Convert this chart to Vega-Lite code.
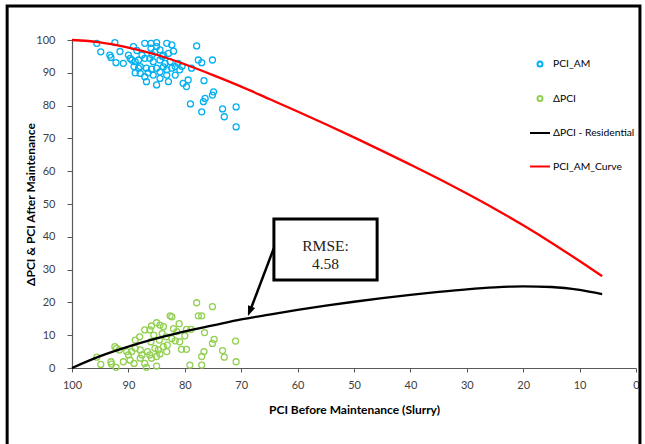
{
  "$schema": "https://vega.github.io/schema/vega-lite/v6.json",
  "width": 564,
  "height": 328,
  "autosize": {"type": "none"},
  "padding": {"left": 72, "top": 40, "right": 9, "bottom": 76},
  "background": "white",
  "config": {
    "view": {"stroke": null},
    "font": "Lato",
    "axis": {"grid": false, "domainColor": "#595959", "tickColor": "#595959", "labelColor": "#404040", "labelFont": "Lato", "labelFontSize": 11, "titleFont": "Lato", "titleFontSize": 12, "titleFontWeight": "bold", "titleColor": "#000000", "domainWidth": 1.2, "labelOverlap": false, "labelFlush": false, "labelBound": false, "tickCount": 11}
  },
  "datasets": {
    "scatter": [
      {"pci": 95.6, "value": 99.0, "series": "PCI_AM"},
      {"pci": 94.9, "value": 96.4, "series": "PCI_AM"},
      {"pci": 92.4, "value": 99.2, "series": "PCI_AM"},
      {"pci": 93.3, "value": 95.4, "series": "PCI_AM"},
      {"pci": 93.1, "value": 94.7, "series": "PCI_AM"},
      {"pci": 92.2, "value": 93.1, "series": "PCI_AM"},
      {"pci": 90.9, "value": 92.9, "series": "PCI_AM"},
      {"pci": 89.1, "value": 98.0, "series": "PCI_AM"},
      {"pci": 90.0, "value": 95.4, "series": "PCI_AM"},
      {"pci": 89.7, "value": 94.4, "series": "PCI_AM"},
      {"pci": 88.8, "value": 93.4, "series": "PCI_AM"},
      {"pci": 88.2, "value": 93.9, "series": "PCI_AM"},
      {"pci": 87.6, "value": 95.4, "series": "PCI_AM"},
      {"pci": 89.0, "value": 91.9, "series": "PCI_AM"},
      {"pci": 87.9, "value": 91.9, "series": "PCI_AM"},
      {"pci": 88.8, "value": 90.0, "series": "PCI_AM"},
      {"pci": 87.9, "value": 89.8, "series": "PCI_AM"},
      {"pci": 87.1, "value": 99.0, "series": "PCI_AM"},
      {"pci": 86.0, "value": 99.0, "series": "PCI_AM"},
      {"pci": 85.0, "value": 99.2, "series": "PCI_AM"},
      {"pci": 86.0, "value": 97.5, "series": "PCI_AM"},
      {"pci": 85.0, "value": 98.0, "series": "PCI_AM"},
      {"pci": 84.4, "value": 97.0, "series": "PCI_AM"},
      {"pci": 85.3, "value": 96.4, "series": "PCI_AM"},
      {"pci": 83.2, "value": 99.0, "series": "PCI_AM"},
      {"pci": 82.3, "value": 98.5, "series": "PCI_AM"},
      {"pci": 83.8, "value": 95.4, "series": "PCI_AM"},
      {"pci": 82.9, "value": 95.9, "series": "PCI_AM"},
      {"pci": 87.1, "value": 94.4, "series": "PCI_AM"},
      {"pci": 86.2, "value": 94.4, "series": "PCI_AM"},
      {"pci": 85.6, "value": 93.4, "series": "PCI_AM"},
      {"pci": 84.4, "value": 93.9, "series": "PCI_AM"},
      {"pci": 83.5, "value": 92.9, "series": "PCI_AM"},
      {"pci": 82.6, "value": 93.4, "series": "PCI_AM"},
      {"pci": 86.8, "value": 91.4, "series": "PCI_AM"},
      {"pci": 85.9, "value": 91.1, "series": "PCI_AM"},
      {"pci": 85.0, "value": 91.4, "series": "PCI_AM"},
      {"pci": 84.4, "value": 90.3, "series": "PCI_AM"},
      {"pci": 83.2, "value": 90.9, "series": "PCI_AM"},
      {"pci": 82.3, "value": 91.4, "series": "PCI_AM"},
      {"pci": 81.7, "value": 91.9, "series": "PCI_AM"},
      {"pci": 81.2, "value": 92.9, "series": "PCI_AM"},
      {"pci": 80.9, "value": 90.9, "series": "PCI_AM"},
      {"pci": 87.1, "value": 88.8, "series": "PCI_AM"},
      {"pci": 86.8, "value": 87.3, "series": "PCI_AM"},
      {"pci": 85.6, "value": 89.3, "series": "PCI_AM"},
      {"pci": 85.0, "value": 86.3, "series": "PCI_AM"},
      {"pci": 84.4, "value": 88.3, "series": "PCI_AM"},
      {"pci": 82.9, "value": 87.3, "series": "PCI_AM"},
      {"pci": 83.2, "value": 89.3, "series": "PCI_AM"},
      {"pci": 81.7, "value": 89.3, "series": "PCI_AM"},
      {"pci": 80.3, "value": 86.8, "series": "PCI_AM"},
      {"pci": 79.4, "value": 87.8, "series": "PCI_AM"},
      {"pci": 79.7, "value": 85.8, "series": "PCI_AM"},
      {"pci": 78.8, "value": 91.4, "series": "PCI_AM"},
      {"pci": 77.9, "value": 98.2, "series": "PCI_AM"},
      {"pci": 77.6, "value": 93.9, "series": "PCI_AM"},
      {"pci": 77.0, "value": 93.1, "series": "PCI_AM"},
      {"pci": 75.1, "value": 93.9, "series": "PCI_AM"},
      {"pci": 76.6, "value": 87.6, "series": "PCI_AM"},
      {"pci": 74.9, "value": 84.2, "series": "PCI_AM"},
      {"pci": 75.1, "value": 83.2, "series": "PCI_AM"},
      {"pci": 76.4, "value": 82.2, "series": "PCI_AM"},
      {"pci": 76.7, "value": 81.2, "series": "PCI_AM"},
      {"pci": 77.0, "value": 78.1, "series": "PCI_AM"},
      {"pci": 79.0, "value": 80.5, "series": "PCI_AM"},
      {"pci": 73.3, "value": 79.0, "series": "PCI_AM"},
      {"pci": 73.0, "value": 76.6, "series": "PCI_AM"},
      {"pci": 70.9, "value": 79.6, "series": "PCI_AM"},
      {"pci": 70.9, "value": 73.5, "series": "PCI_AM"},
      {"pci": 91.5, "value": 96.5, "series": "PCI_AM"},
      {"pci": 88.5, "value": 96.8, "series": "PCI_AM"},
      {"pci": 84.0, "value": 95.0, "series": "PCI_AM"},
      {"pci": 86.5, "value": 90.0, "series": "PCI_AM"},
      {"pci": 83.8, "value": 91.8, "series": "PCI_AM"},
      {"pci": 82.0, "value": 96.6, "series": "PCI_AM"},
      {"pci": 80.5, "value": 92.0, "series": "PCI_AM"},
      {"pci": 89.4, "value": 93.9, "series": "PCI_AM"},
      {"pci": 88.2, "value": 91.4, "series": "PCI_AM"},
      {"pci": 85.8, "value": 95.5, "series": "PCI_AM"},
      {"pci": 77.9, "value": 19.9, "series": "ΔPCI"},
      {"pci": 75.1, "value": 18.7, "series": "ΔPCI"},
      {"pci": 82.6, "value": 15.9, "series": "ΔPCI"},
      {"pci": 82.3, "value": 15.6, "series": "ΔPCI"},
      {"pci": 77.6, "value": 15.9, "series": "ΔPCI"},
      {"pci": 77.0, "value": 15.9, "series": "ΔPCI"},
      {"pci": 85.0, "value": 13.8, "series": "ΔPCI"},
      {"pci": 85.9, "value": 12.8, "series": "ΔPCI"},
      {"pci": 84.4, "value": 13.1, "series": "ΔPCI"},
      {"pci": 83.8, "value": 12.6, "series": "ΔPCI"},
      {"pci": 87.1, "value": 11.6, "series": "ΔPCI"},
      {"pci": 86.2, "value": 11.6, "series": "ΔPCI"},
      {"pci": 81.4, "value": 11.1, "series": "ΔPCI"},
      {"pci": 79.7, "value": 11.8, "series": "ΔPCI"},
      {"pci": 78.9, "value": 11.8, "series": "ΔPCI"},
      {"pci": 76.5, "value": 10.8, "series": "ΔPCI"},
      {"pci": 88.8, "value": 8.5, "series": "ΔPCI"},
      {"pci": 83.3, "value": 9.5, "series": "ΔPCI"},
      {"pci": 82.3, "value": 9.0, "series": "ΔPCI"},
      {"pci": 81.7, "value": 8.3, "series": "ΔPCI"},
      {"pci": 80.9, "value": 8.0, "series": "ΔPCI"},
      {"pci": 74.8, "value": 8.7, "series": "ΔPCI"},
      {"pci": 75.1, "value": 7.5, "series": "ΔPCI"},
      {"pci": 71.0, "value": 8.2, "series": "ΔPCI"},
      {"pci": 92.4, "value": 6.5, "series": "ΔPCI"},
      {"pci": 91.6, "value": 5.5, "series": "ΔPCI"},
      {"pci": 90.3, "value": 5.0, "series": "ΔPCI"},
      {"pci": 90.0, "value": 4.0, "series": "ΔPCI"},
      {"pci": 89.4, "value": 5.0, "series": "ΔPCI"},
      {"pci": 88.8, "value": 6.0, "series": "ΔPCI"},
      {"pci": 87.9, "value": 5.5, "series": "ΔPCI"},
      {"pci": 87.6, "value": 4.0, "series": "ΔPCI"},
      {"pci": 86.6, "value": 5.0, "series": "ΔPCI"},
      {"pci": 86.2, "value": 4.0, "series": "ΔPCI"},
      {"pci": 85.3, "value": 6.0, "series": "ΔPCI"},
      {"pci": 84.7, "value": 5.5, "series": "ΔPCI"},
      {"pci": 84.4, "value": 4.3, "series": "ΔPCI"},
      {"pci": 83.8, "value": 6.5, "series": "ΔPCI"},
      {"pci": 83.2, "value": 5.0, "series": "ΔPCI"},
      {"pci": 83.1, "value": 7.0, "series": "ΔPCI"},
      {"pci": 80.6, "value": 5.7, "series": "ΔPCI"},
      {"pci": 79.7, "value": 5.7, "series": "ΔPCI"},
      {"pci": 76.6, "value": 5.0, "series": "ΔPCI"},
      {"pci": 77.0, "value": 3.5, "series": "ΔPCI"},
      {"pci": 73.3, "value": 5.3, "series": "ΔPCI"},
      {"pci": 73.0, "value": 3.3, "series": "ΔPCI"},
      {"pci": 70.9, "value": 1.9, "series": "ΔPCI"},
      {"pci": 94.9, "value": 1.1, "series": "ΔPCI"},
      {"pci": 93.1, "value": 1.9, "series": "ΔPCI"},
      {"pci": 93.0, "value": 1.2, "series": "ΔPCI"},
      {"pci": 92.2, "value": 0.2, "series": "ΔPCI"},
      {"pci": 90.9, "value": 1.9, "series": "ΔPCI"},
      {"pci": 89.7, "value": 2.4, "series": "ΔPCI"},
      {"pci": 89.0, "value": 1.4, "series": "ΔPCI"},
      {"pci": 87.9, "value": 3.0, "series": "ΔPCI"},
      {"pci": 87.1, "value": 1.4, "series": "ΔPCI"},
      {"pci": 86.8, "value": 0.2, "series": "ΔPCI"},
      {"pci": 85.9, "value": 3.0, "series": "ΔPCI"},
      {"pci": 85.0, "value": 0.6, "series": "ΔPCI"},
      {"pci": 85.0, "value": 3.5, "series": "ΔPCI"},
      {"pci": 79.1, "value": 0.9, "series": "ΔPCI"},
      {"pci": 77.0, "value": 0.9, "series": "ΔPCI"},
      {"pci": 95.6, "value": 3.3, "series": "ΔPCI"},
      {"pci": 92.1, "value": 6.0, "series": "ΔPCI"},
      {"pci": 84.0, "value": 10.5, "series": "ΔPCI"},
      {"pci": 82.0, "value": 12.0, "series": "ΔPCI"},
      {"pci": 86.0, "value": 8.0, "series": "ΔPCI"},
      {"pci": 88.0, "value": 9.5, "series": "ΔPCI"},
      {"pci": 84.5, "value": 8.5, "series": "ΔPCI"},
      {"pci": 80.0, "value": 9.8, "series": "ΔPCI"},
      {"pci": 81.0, "value": 13.5, "series": "ΔPCI"},
      {"pci": 85.5, "value": 10.0, "series": "ΔPCI"}
    ],
    "curves": [
      {"pci": 100, "value": 0, "series": "ΔPCI - Residential"},
      {"pci": 95, "value": 3.6, "series": "ΔPCI - Residential"},
      {"pci": 90, "value": 6.5, "series": "ΔPCI - Residential"},
      {"pci": 85, "value": 9.0, "series": "ΔPCI - Residential"},
      {"pci": 80, "value": 11.2, "series": "ΔPCI - Residential"},
      {"pci": 75, "value": 13.0, "series": "ΔPCI - Residential"},
      {"pci": 70, "value": 14.8, "series": "ΔPCI - Residential"},
      {"pci": 65, "value": 16.3, "series": "ΔPCI - Residential"},
      {"pci": 60, "value": 17.7, "series": "ΔPCI - Residential"},
      {"pci": 55, "value": 19.0, "series": "ΔPCI - Residential"},
      {"pci": 50, "value": 20.2, "series": "ΔPCI - Residential"},
      {"pci": 45, "value": 21.3, "series": "ΔPCI - Residential"},
      {"pci": 40, "value": 22.3, "series": "ΔPCI - Residential"},
      {"pci": 35, "value": 23.2, "series": "ΔPCI - Residential"},
      {"pci": 30, "value": 24.0, "series": "ΔPCI - Residential"},
      {"pci": 25, "value": 24.6, "series": "ΔPCI - Residential"},
      {"pci": 20, "value": 24.9, "series": "ΔPCI - Residential"},
      {"pci": 15, "value": 24.7, "series": "ΔPCI - Residential"},
      {"pci": 10, "value": 23.8, "series": "ΔPCI - Residential"},
      {"pci": 6, "value": 22.5, "series": "ΔPCI - Residential"},
      {"pci": 100, "value": 100, "series": "PCI_AM_Curve"},
      {"pci": 95, "value": 99.3, "series": "PCI_AM_Curve"},
      {"pci": 90, "value": 97.7, "series": "PCI_AM_Curve"},
      {"pci": 85, "value": 95.5, "series": "PCI_AM_Curve"},
      {"pci": 80, "value": 92.6, "series": "PCI_AM_Curve"},
      {"pci": 75, "value": 89.3, "series": "PCI_AM_Curve"},
      {"pci": 70, "value": 85.8, "series": "PCI_AM_Curve"},
      {"pci": 65, "value": 82.0, "series": "PCI_AM_Curve"},
      {"pci": 60, "value": 78.2, "series": "PCI_AM_Curve"},
      {"pci": 55, "value": 74.3, "series": "PCI_AM_Curve"},
      {"pci": 50, "value": 70.3, "series": "PCI_AM_Curve"},
      {"pci": 45, "value": 66.2, "series": "PCI_AM_Curve"},
      {"pci": 40, "value": 62.0, "series": "PCI_AM_Curve"},
      {"pci": 35, "value": 57.7, "series": "PCI_AM_Curve"},
      {"pci": 30, "value": 53.2, "series": "PCI_AM_Curve"},
      {"pci": 25, "value": 48.5, "series": "PCI_AM_Curve"},
      {"pci": 20, "value": 43.5, "series": "PCI_AM_Curve"},
      {"pci": 15, "value": 38.2, "series": "PCI_AM_Curve"},
      {"pci": 10, "value": 32.6, "series": "PCI_AM_Curve"},
      {"pci": 6, "value": 28.0, "series": "PCI_AM_Curve"}
    ],
    "note": [{"label": ["RMSE:", "4.58"]}]
  },
  "layer": [
    {
      "data": {"name": "scatter"},
      "mark": {"type": "point", "filled": false, "size": 576, "strokeWidth": 1.3, "opacity": 1},
      "encoding": {
        "x": {"field": "pci", "type": "quantitative", "scale": {"domain": [0, 100], "reverse": true, "nice": false, "zero": false}, "axis": {"values": [0, 10, 20, 30, 40, 50, 60, 70, 80, 90, 100], "tickCount": 11, "title": "PCI Before Maintenance (Slurry)", "tickSize": 4, "labelPadding": 7, "titlePadding": 14}},
        "y": {"field": "value", "type": "quantitative", "scale": {"domain": [0, 100], "nice": false}, "axis": {"values": [0, 10, 20, 30, 40, 50, 60, 70, 80, 90, 100], "tickCount": 11, "title": "ΔPCI & PCI After Maintenance", "tickSize": 5, "labelPadding": 12, "titlePadding": -2}},
        "color": {"field": "series", "type": "nominal", "scale": {"domain": ["PCI_AM", "ΔPCI", "ΔPCI - Residential", "PCI_AM_Curve"], "range": ["#00B0F0", "#92D050", "#000000", "#FF0000"]}, "legend": {"title": null, "orient": "none", "legendX": 457, "legendY": 13, "padding": 0, "symbolSize": 400, "symbolStrokeWidth": 2, "rowPadding": 16.5, "labelFont": "Lato", "labelFontSize": 10.3, "labelColor": "#000000", "labelOffset": 2}},
        "shape": {"field": "series", "type": "nominal", "scale": {"domain": ["PCI_AM", "ΔPCI", "ΔPCI - Residential", "PCI_AM_Curve"], "range": ["M-0.25,0A0.25,0.25 0 1,1 0.25,0A0.25,0.25 0 1,1 -0.25,0Z", "M-0.25,0A0.25,0.25 0 1,1 0.25,0A0.25,0.25 0 1,1 -0.25,0Z", "stroke", "stroke"]}, "legend": {"title": null, "orient": "none", "legendX": 457, "legendY": 13, "padding": 0, "symbolSize": 400, "symbolStrokeWidth": 2, "rowPadding": 16.5, "labelFont": "Lato", "labelFontSize": 10.3, "labelColor": "#000000", "labelOffset": 2}}
      }
    },
    {
      "data": {"name": "curves"},
      "mark": {"type": "line", "strokeWidth": 2.3, "interpolate": "monotone"},
      "encoding": {
        "x": {"field": "pci", "type": "quantitative"},
        "y": {"field": "value", "type": "quantitative"},
        "color": {"field": "series", "type": "nominal"},
        "detail": {"field": "series"}
      }
    },
    {
      "data": {"name": "note"},
      "mark": {"type": "rect", "fill": "white", "stroke": "black", "strokeWidth": 3},
      "encoding": {
        "x": {"datum": 64.2, "type": "quantitative"},
        "x2": {"datum": 45.9},
        "y": {"datum": 45.4, "type": "quantitative"},
        "y2": {"datum": 26.8}
      }
    },
    {
      "data": {"name": "note"},
      "mark": {"type": "text", "font": "Liberation Serif", "fontSize": 15.5, "lineHeight": 18, "align": "center", "baseline": "middle", "color": "#222222"},
      "encoding": {
        "x": {"datum": 55.05, "type": "quantitative"},
        "y": {"datum": 37.3, "type": "quantitative"},
        "text": {"field": "label"}
      }
    },
    {
      "data": {"name": "note"},
      "mark": {"type": "rule", "stroke": "black", "strokeWidth": 2.5},
      "encoding": {
        "x": {"datum": 64.2, "type": "quantitative"},
        "x2": {"datum": 68.3},
        "y": {"datum": 36.6, "type": "quantitative"},
        "y2": {"datum": 18.0}
      }
    },
    {
      "data": {"name": "note"},
      "mark": {"type": "point", "shape": "M0,0L0.38,1L-0.38,1Z", "size": 400, "filled": true, "color": "black", "angle": 200.9, "opacity": 1},
      "encoding": {
        "x": {"datum": 68.8, "type": "quantitative"},
        "y": {"datum": 15.85, "type": "quantitative"}
      }
    },
    {
      "data": {"name": "note"},
      "mark": {"type": "rect", "fill": null, "fillOpacity": 0, "stroke": "black", "strokeWidth": 3, "clip": false},
      "encoding": {
        "x": {"datum": 111.5, "type": "quantitative"},
        "x2": {"datum": -0.7},
        "y": {"datum": 110.4, "type": "quantitative"},
        "y2": {"datum": -25}
      }
    }
  ]
}
